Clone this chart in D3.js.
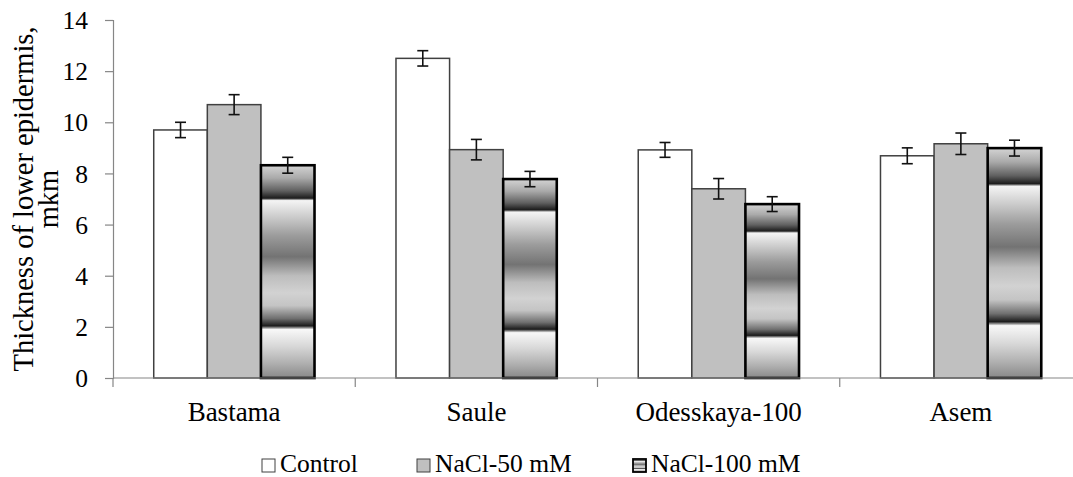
<!DOCTYPE html>
<html>
<head>
<meta charset="utf-8">
<script src="https://cdn.jsdelivr.net/npm/d3@7"></script>
<style>
  html, body { margin: 0; padding: 0; background: #fff; }
  text { font-family: "Liberation Serif", "Times New Roman", serif; fill: #000; }
</style>
</head>
<body>
<div id="chart"></div>
<script>
const categories = ["Bastama", "Saule", "Odesskaya-100", "Asem"]
const series = ["Control", "NaCl-50 mM", "NaCl-100 mM"]

const controlValues = [9.7, 12.5, 8.92, 8.69]
const nacl50Values = [10.69, 8.93, 7.4, 9.16]
const nacl100Values = [8.32, 7.78, 6.8, 8.99]

const controlErr = [0.3, 0.3, 0.29, 0.31]
const nacl50Err = [0.39, 0.4, 0.4, 0.42]
const nacl100Err = [0.31, 0.3, 0.29, 0.31]

const yTicks = [0, 2, 4, 6, 8, 10, 12, 14]

const width = 1073
const height = 477

// build rows for the bars
const values = [controlValues, nacl50Values, nacl100Values]
const errors = [controlErr, nacl50Err, nacl100Err]
const rows = []
categories.forEach((c, i) => {
    series.forEach((s, j) => {
        rows.push({ category: c, series: s, value: values[j][i], err: errors[j][i] })
    })
})

const svg = d3.select("#chart").append("svg")
    .attr("width", width)
    .attr("height", height)
    .attr("viewBox", [0, 0, width, height])
    .attr("font-family", "Liberation Serif, serif")

// banded gradient used by the NaCl-100 bars
const stops = [
    [0, "#d4d4d4"], [0.06, "#aaaaaa"], [0.12, "#606060"], [0.155, "#1c1c1c"],
    [0.166, "#f4f4f4"], [0.25, "#c8c8c8"], [0.33, "#9c9c9c"], [0.43, "#737373"],
    [0.52, "#bdbdbd"], [0.6, "#d2d2d2"], [0.66, "#c4c4c4"], [0.72, "#707070"],
    [0.755, "#1c1c1c"], [0.772, "#f8f8f8"], [0.85, "#d8d8d8"], [0.93, "#b0b0b0"],
    [1, "#888888"]
]
const grad = svg.append("defs").append("linearGradient")
    .attr("id", "bands")
    .attr("x1", 0).attr("y1", 0).attr("x2", 0).attr("y2", 1)
grad.selectAll("stop")
    .data(stops)
    .join("stop")
    .attr("offset", d => d[0])
    .attr("stop-color", d => d[1])

const fills = { "Control": "#ffffff", "NaCl-50 mM": "#c0c0c0", "NaCl-100 mM": "url(#bands)" }
const strokes = { "Control": "#404040", "NaCl-50 mM": "#404040", "NaCl-100 mM": "#000" }
const strokeW = { "Control": 1.5, "NaCl-50 mM": 1.5, "NaCl-100 mM": 2.6 }

const x0 = d3.scaleBand().domain(categories).range([113, 1082])
const x1 = d3.scaleBand().domain(series).range([0, x0.bandwidth()]).paddingOuter(0.76)
const y = d3.scaleLinear().domain([0, 14]).range([378, 20])

// bars
svg.append("g")
    .selectAll("rect")
    .data(rows)
    .join("rect")
    .attr("x", d => x0(d.category) + x1(d.series))
    .attr("y", d => y(d.value))
    .attr("width", x1.bandwidth())
    .attr("height", d => y(0) - y(d.value))
    .attr("fill", d => fills[d.series])
    .attr("stroke", d => strokes[d.series])
    .attr("stroke-width", d => strokeW[d.series])

// y axis
const yAxis = svg.append("g")
    .attr("transform", `translate(${x0.range()[0]},0)`)
    .call(d3.axisLeft(y).tickValues(yTicks).tickSize(8).tickPadding(17))
    .attr("font-family", null)
    .attr("font-size", null)
yAxis.select(".domain").attr("stroke", "#868686").attr("stroke-width", 1.2)
yAxis.selectAll(".tick line").attr("stroke", "#868686").attr("stroke-width", 1.2)
yAxis.selectAll(".tick text")
    .attr("font-size", 25.5)
    .attr("dy", "0.34em")

// x axis line and category ticks
const xg = svg.append("g")
xg.append("line")
    .attr("x1", x0.range()[0]).attr("x2", x0.range()[1])
    .attr("y1", y(0)).attr("y2", y(0))
    .attr("stroke", "#868686").attr("stroke-width", 1.2)
xg.selectAll(".sep")
    .data(categories.concat(["end"]))
    .join("line")
    .attr("x1", (d, i) => x0.range()[0] + i * x0.step())
    .attr("x2", (d, i) => x0.range()[0] + i * x0.step())
    .attr("y1", y(0)).attr("y2", y(0) + 9)
    .attr("stroke", "#868686").attr("stroke-width", 1.2)
xg.selectAll(".cat")
    .data(categories)
    .join("text")
    .attr("x", d => x0(d) + x0.bandwidth() / 2)
    .attr("y", 421)
    .attr("text-anchor", "middle")
    .attr("font-size", 27)
    .text(d => d)

// error bars
const eb = svg.append("g")
    .attr("stroke", "#111")
    .attr("stroke-width", 1.6)
    .selectAll("g")
    .data(rows)
    .join("g")
    .attr("transform", d => `translate(${x0(d.category) + x1(d.series) + x1.bandwidth() / 2},0)`)
eb.append("line")
    .attr("y1", d => y(d.value + d.err)).attr("y2", d => y(d.value - d.err))
eb.append("line")
    .attr("x1", -5.5).attr("x2", 5.5)
    .attr("y1", d => y(d.value + d.err)).attr("y2", d => y(d.value + d.err))
eb.append("line")
    .attr("x1", -5.5).attr("x2", 5.5)
    .attr("y1", d => y(d.value - d.err)).attr("y2", d => y(d.value - d.err))

// y title
svg.append("text")
    .attr("transform", `translate(33,${(y(0) + y(14)) / 2}) rotate(-90)`)
    .attr("text-anchor", "middle")
    .attr("font-size", 28.5)
    .call(t => {
        t.append("tspan").attr("x", 0).attr("dy", 0).text("Thickness of lower epidermis,")
        t.append("tspan").attr("x", 0).attr("dy", 25).text("mkm")
    })

// legend
const legendX = [262, 417, 633]
const leg = svg.append("g")
    .selectAll("g")
    .data(series)
    .join("g")
    .attr("transform", (d, i) => `translate(${legendX[i]},459)`)
leg.append("rect")
    .attr("width", 13).attr("height", 13)
    .attr("fill", d => fills[d])
    .attr("stroke", d => d === "NaCl-100 mM" ? "#000" : "#404040")
    .attr("stroke-width", d => d === "NaCl-100 mM" ? 1.8 : 1)
leg.append("text")
    .attr("x", 18).attr("y", 13)
    .attr("font-size", 25.5)
    .text(d => d)
</script>
</body>
</html>
